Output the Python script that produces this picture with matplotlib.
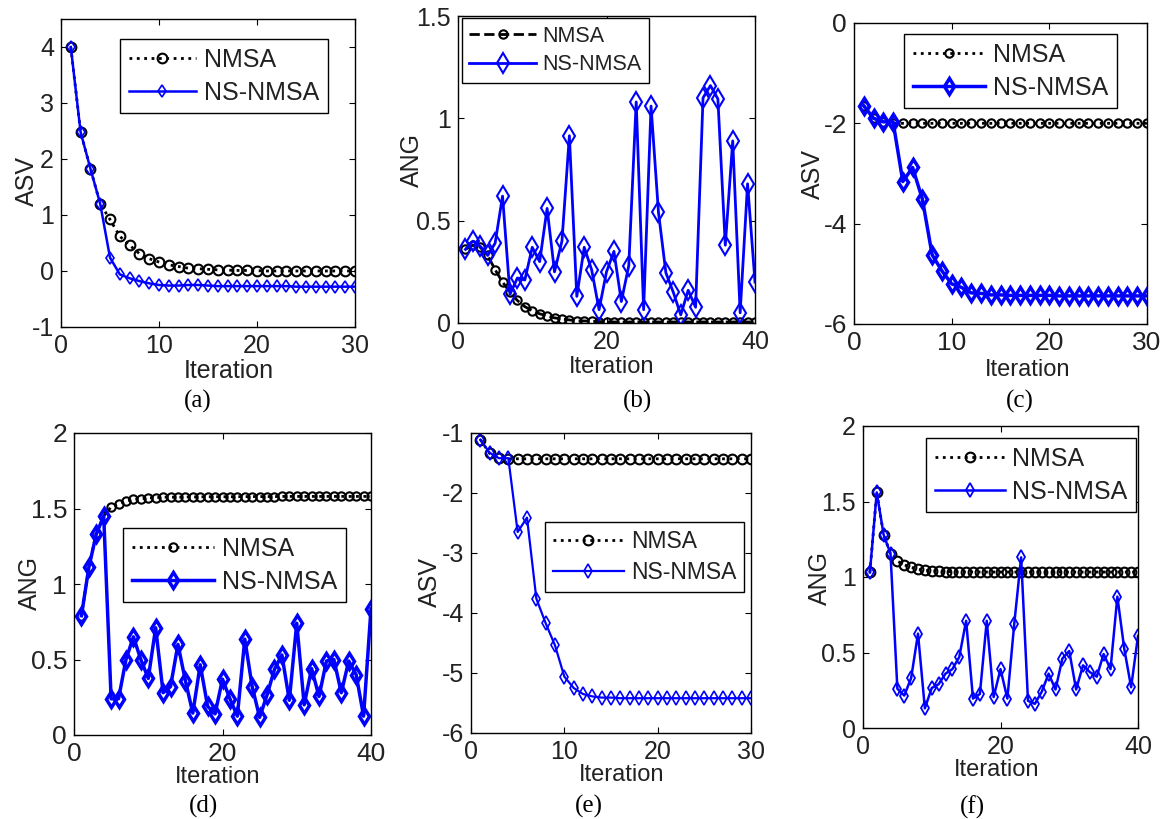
import matplotlib
matplotlib.use("Agg")
import matplotlib.pyplot as plt
from matplotlib.ticker import FuncFormatter

# Plot defaults:
plt.rcParams['font.family'] = ['Liberation Sans', 'DejaVu Sans']
plt.rcParams['axes.unicode_minus'] = False
W, H = 1166, 819
TEXT = '#222222'

# ---------------------------------------------------------------- data
iter30 = list(range(1, 31))
iter40 = list(range(1, 41))

# (a) ASV
nmsa_a = [4.0, 2.48, 1.83, 1.2, 0.92, 0.62, 0.46, 0.31, 0.22, 0.16,
          0.11, 0.08, 0.05, 0.04, 0.03, 0.02, 0.015, 0.01, 0.01, 0.005,
          0.0, 0.0, 0.0, 0.0, 0.0, 0.0, 0.0, 0.0, 0.0, 0.0]
ns_a = [4.0, 2.48, 1.83, 1.2, 0.24, -0.06, -0.13, -0.18, -0.22, -0.25,
        -0.26, -0.26, -0.25, -0.25, -0.26, -0.27, -0.27, -0.27, -0.27, -0.27,
        -0.27, -0.27, -0.27, -0.28, -0.28, -0.28, -0.28, -0.28, -0.28, -0.28]

# (b) ANG
nmsa_b = [0.36, 0.38, 0.37, 0.33, 0.26, 0.20, 0.15, 0.11, 0.08, 0.06,
          0.045, 0.035, 0.025, 0.02, 0.015, 0.01, 0.01, 0.008, 0.007, 0.006,
          0.005, 0.005, 0.005, 0.005, 0.005, 0.005, 0.005, 0.005, 0.005, 0.005,
          0.005, 0.005, 0.005, 0.005, 0.005, 0.005, 0.005, 0.005, 0.005, 0.005]
ns_b = [0.36, 0.40, 0.375, 0.33, 0.39, 0.62, 0.14, 0.22, 0.21, 0.37,
        0.30, 0.56, 0.25, 0.40, 0.915, 0.13, 0.37, 0.26, 0.065, 0.25,
        0.35, 0.105, 0.28, 1.08, 0.065, 1.06, 0.54, 0.245, 0.15, 0.04,
        0.16, 0.077, 1.10, 1.16, 1.095, 0.38, 0.89, 0.05, 0.68, 0.20]

# (c) ASV
nmsa_c = [-1.65, -1.90, -1.97, -2.0, -2.0, -2.0, -2.0, -2.0, -2.0, -2.0,
          -2.0, -2.0, -2.0, -2.0, -2.0, -2.0, -2.0, -2.0, -2.0, -2.0,
          -2.0, -2.0, -2.0, -2.0, -2.0, -2.0, -2.0, -2.0, -2.0, -2.0]
ns_c = [-1.65, -1.90, -1.97, -1.97, -3.16, -2.88, -3.51, -4.62, -4.94, -5.20,
        -5.27, -5.38, -5.39, -5.42, -5.42, -5.43, -5.43, -5.43, -5.43, -5.43,
        -5.44, -5.44, -5.44, -5.44, -5.44, -5.44, -5.44, -5.44, -5.44, -5.44]

# (d) ANG
nmsa_d = [0.79, 1.11, 1.34, 1.45, 1.51, 1.53, 1.55, 1.56, 1.565, 1.57,
          1.572, 1.575, 1.575, 1.575, 1.576, 1.577, 1.577, 1.578, 1.578, 1.578,
          1.578, 1.578, 1.579, 1.579, 1.579, 1.579, 1.579, 1.58, 1.58, 1.58,
          1.58, 1.58, 1.58, 1.58, 1.58, 1.58, 1.58, 1.58, 1.58, 1.58]
ns_d = [0.79, 1.11, 1.33, 1.45, 0.24, 0.24, 0.50, 0.65, 0.50, 0.375,
        0.71, 0.28, 0.32, 0.60, 0.36, 0.145, 0.465, 0.19, 0.14, 0.37,
        0.24, 0.125, 0.635, 0.32, 0.117, 0.265, 0.435, 0.53, 0.23, 0.74,
        0.20, 0.44, 0.255, 0.49, 0.50, 0.28, 0.49, 0.40, 0.125, 0.835]

# (e) ASV
nmsa_e = [-1.11, -1.34, -1.42, -1.43, -1.43, -1.43, -1.43, -1.43, -1.43, -1.43,
          -1.43, -1.43, -1.43, -1.43, -1.43, -1.43, -1.43, -1.43, -1.43, -1.43,
          -1.43, -1.43, -1.43, -1.43, -1.43, -1.43, -1.43, -1.43, -1.43, -1.43]
ns_e = [-1.11, -1.33, -1.42, -1.42, -2.65, -2.41, -3.76, -4.17, -4.54, -5.06,
        -5.25, -5.35, -5.39, -5.41, -5.41, -5.42, -5.42, -5.42, -5.42, -5.42,
        -5.42, -5.42, -5.42, -5.42, -5.42, -5.42, -5.42, -5.42, -5.42, -5.42]

# (f) ANG
nmsa_f = [1.03, 1.56, 1.28, 1.155, 1.105, 1.08, 1.065, 1.05, 1.045, 1.04,
          1.038, 1.036, 1.035, 1.035, 1.034, 1.034, 1.033, 1.033, 1.033, 1.033,
          1.033, 1.033, 1.033, 1.033, 1.033, 1.033, 1.033, 1.033, 1.033, 1.033,
          1.033, 1.033, 1.033, 1.033, 1.033, 1.033, 1.033, 1.033, 1.033, 1.033]
ns_f = [1.03, 1.56, 1.28, 1.155, 0.26, 0.215, 0.33, 0.625, 0.13, 0.265,
        0.29, 0.36, 0.39, 0.47, 0.71, 0.195, 0.225, 0.71, 0.205, 0.39,
        0.195, 0.69, 1.13, 0.18, 0.16, 0.24, 0.36, 0.255, 0.46, 0.51,
        0.255, 0.415, 0.37, 0.34, 0.49, 0.39, 0.87, 0.525, 0.27, 0.61]

# ---------------------------------------------------------------- layout
# panel: axes box in pixels (x0, y0, x1, y1), label centres in pixels
panels = [
    dict(x=iter30, a=nmsa_a, b=ns_a, box=(61, 19, 355, 327), ylab='ASV',
         xlim=(0, 30), ylim=(-1, 4.5), xt=[0, 10, 20, 30], yt=[-1, 0, 1, 2, 3, 4],
         xl=(229, 371), xfs=18, yl=(27, 181), cap='(a)', cp=(198, 401),
         ls_a=':', ms_a=7, ls_b='-', ms_b=6, lw_b=1.8, mew_b=1.2,
         leg=(0.20, 0.935), lfs=18, hl=2.7, tfs=18),
    dict(x=iter40, a=nmsa_b, b=ns_b, box=(458, 16, 755, 323), ylab='ANG',
         xlim=(0, 40), ylim=(0, 1.5), xt=[0, 20, 40], yt=[0, 0.5, 1, 1.5],
         xl=(612, 367), xfs=17, yl=(412, 160), cap='(b)', cp=(637, 401),
         ls_a='--', ms_a=6, ls_b='-', ms_b=10, lw_b=2.0, mew_b=1.5,
         leg=(0.013, 0.993), lfs=15.5, hl=3.1, tfs=18),
    dict(x=iter30, a=nmsa_c, b=ns_c, box=(854, 23, 1147, 324), ylab='ASV',
         xlim=(0, 30), ylim=(-6, 0), xt=[0, 10, 20, 30], yt=[-6, -4, -2, 0],
         xl=(1028, 370), xfs=17, yl=(813, 174), cap='(c)', cp=(1020, 401),
         ls_a=':', ms_a=6, ls_b='-', ms_b=8, lw_b=2.5, mew_b=2.5,
         leg=(0.17, 0.963), lfs=18, hl=2.9, tfs=19),
    dict(x=iter40, a=nmsa_d, b=ns_d, box=(74, 433, 371, 735), ylab='ANG',
         xlim=(0, 40), ylim=(0, 2), xt=[0, 20, 40], yt=[0, 0.5, 1, 1.5, 2],
         xl=(218, 777), xfs=17, yl=(30, 583), cap='(d)', cp=(203, 806),
         ls_a=':', ms_a=6, ls_b='-', ms_b=8, lw_b=2.5, mew_b=2.5,
         leg=(0.165, 0.685), lfs=18, hl=3.3, tfs=19),
    dict(x=iter30, a=nmsa_e, b=ns_e, box=(471, 433, 751, 733), ylab='ASV',
         xlim=(0, 30), ylim=(-6, -1), xt=[0, 10, 20, 30], yt=[-6, -5, -4, -3, -2, -1],
         xl=(622, 775), xfs=17, yl=(430, 582), cap='(e)', cp=(589, 806),
         ls_a=':', ms_a=7, ls_b='-', ms_b=7, lw_b=1.6, mew_b=1.2,
         leg=(0.264, 0.703), lfs=16.5, hl=3.1, tfs=18),
    dict(x=iter40, a=nmsa_f, b=ns_f, box=(863, 426, 1138, 728), ylab='ANG',
         xlim=(0, 40), ylim=(0, 2), xt=[0, 20, 40], yt=[0, 0.5, 1, 1.5, 2],
         xl=(997, 770), xfs=17, yl=(820, 578), cap='(f)', cp=(972, 807),
         ls_a=':', ms_a=7, ls_b='-', ms_b=7, lw_b=1.8, mew_b=1.3,
         leg=(0.229, 0.96), lfs=18, hl=2.8, tfs=18),
]


def px(x, y):
    """Pixel position -> figure fraction"""
    return x / W, 1 - y / H


fig = plt.figure(figsize=(W / 100, H / 100), dpi=100)
fmt = FuncFormatter(lambda v, pos: '%g' % v)

for p in panels:
    x0, y0, x1, y1 = p['box']
    ax = fig.add_axes([x0 / W, 1 - y1 / H, (x1 - x0) / W, (y1 - y0) / H])

    ax.plot(p['x'], p['a'], color='black', linestyle=p['ls_a'], linewidth=2.0,
            marker='o', markersize=p['ms_a'], markerfacecolor='none',
            markeredgewidth=1.5, label='NMSA')
    ax.plot(p['x'], p['b'], color='#0000ff', linestyle=p['ls_b'], linewidth=p['lw_b'],
            marker='d', markersize=p['ms_b'], markerfacecolor='none',
            markeredgewidth=p['mew_b'], label='NS-NMSA')

    ax.set_xlim(*p['xlim'])
    ax.set_ylim(*p['ylim'])
    ax.set_xticks(p['xt'])
    ax.set_yticks(p['yt'])
    ax.xaxis.set_major_formatter(fmt)
    ax.yaxis.set_major_formatter(fmt)
    ax.tick_params(direction='in', top=True, right=True, length=4, width=0.8,
                   labelsize=p['tfs'], labelcolor=TEXT, pad=5)
    for s in ax.spines.values():
        s.set_linewidth(1.0)
        s.set_color('black')

    # Axis labels placed at measured spots:
    fx, fy = px(*p['xl'])
    fig.text(fx, fy, 'Iteration', ha='center', va='center', fontsize=p['xfs'],
             color=TEXT)
    fx, fy = px(*p['yl'])
    fig.text(fx, fy, p['ylab'], ha='center', va='center', rotation=90,
             fontsize=18, color=TEXT)
    fx, fy = px(*p['cp'])
    fig.text(fx, fy, p['cap'], ha='center', va='center', fontsize=18,
             family='Liberation Serif', color='black')

    leg = ax.legend(loc='upper left', bbox_to_anchor=p['leg'], fontsize=p['lfs'],
                    handlelength=p['hl'], fancybox=False, framealpha=1,
                    edgecolor='black', borderaxespad=0, borderpad=0.35,
                    labelspacing=0.35, handletextpad=0.3)
    leg.get_frame().set_linewidth(1.0)
    for t in leg.get_texts():
        t.set_color(TEXT)

fig.savefig('out.png', dpi=100)
